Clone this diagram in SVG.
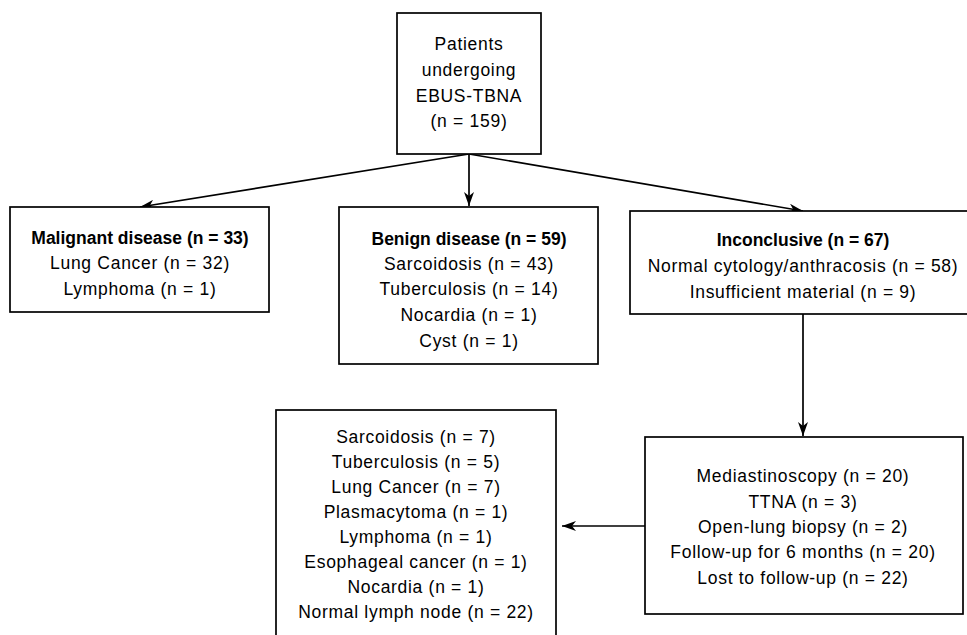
<svg xmlns="http://www.w3.org/2000/svg" width="967" height="635" viewBox="0 0 967 635">
<defs>
<style>
.box{fill:#fff;stroke:#000;stroke-width:1.7}
.t{font-family:"Liberation Sans",Arial,sans-serif;font-size:17.5px;letter-spacing:0.7px;fill:#000;text-anchor:middle}
.b{font-weight:bold;letter-spacing:0px}
.c{fill:none;stroke:#000;stroke-width:1.7}
</style>
<marker id="ah" viewBox="0 0 14 10" refX="14" refY="5" markerWidth="14" markerHeight="10" markerUnits="userSpaceOnUse" orient="auto">
<path d="M0,0 L14,5 L0,10 L4,5 Z" fill="#000"/>
</marker>
</defs>
<rect width="967" height="635" fill="#fff"/>
<g id="connectors">
<line class="c" x1="469" y1="154" x2="140" y2="207" marker-end="url(#ah)"/>
<line class="c" x1="469" y1="154" x2="469" y2="206" marker-end="url(#ah)"/>
<line class="c" x1="469" y1="154" x2="803" y2="211" marker-end="url(#ah)"/>
<line class="c" x1="803" y1="314" x2="803" y2="436" marker-end="url(#ah)"/>
<line class="c" x1="645" y1="526" x2="562" y2="526" marker-end="url(#ah)"/>
</g>
<g id="patients">
<rect class="box" x="397" y="13" width="144" height="141"/>
<text class="t" x="469" y="50">Patients</text>
<text class="t" x="469" y="76">undergoing</text>
<text class="t" x="469" y="102">EBUS-TBNA</text>
<text class="t" x="469" y="127">(n = 159)</text>
</g>
<g id="malignant">
<rect class="box" x="10" y="207" width="259" height="105"/>
<text class="t b" x="140" y="244">Malignant disease (n = 33)</text>
<text class="t" x="140" y="269">Lung Cancer (n = 32)</text>
<text class="t" x="140" y="295">Lymphoma (n = 1)</text>
</g>
<g id="benign">
<rect class="box" x="339" y="207" width="259" height="157"/>
<text class="t b" x="469" y="245">Benign disease (n = 59)</text>
<text class="t" x="469" y="270">Sarcoidosis (n = 43)</text>
<text class="t" x="469" y="295">Tuberculosis (n = 14)</text>
<text class="t" x="469" y="321">Nocardia (n = 1)</text>
<text class="t" x="469" y="347">Cyst (n = 1)</text>
</g>
<g id="inconclusive">
<rect class="box" x="630" y="211" width="346" height="103"/>
<text class="t b" x="803" y="246">Inconclusive (n = 67)</text>
<text class="t" x="803" y="272">Normal cytology/anthracosis (n = 58)</text>
<text class="t" x="803" y="298">Insufficient material (n = 9)</text>
</g>
<g id="followup">
<rect class="box" x="645" y="437" width="318" height="177"/>
<text class="t" x="803" y="482">Mediastinoscopy (n = 20)</text>
<text class="t" x="803" y="508">TTNA (n = 3)</text>
<text class="t" x="803" y="533">Open-lung biopsy (n = 2)</text>
<text class="t" x="803" y="558">Follow-up for 6 months (n = 20)</text>
<text class="t" x="803" y="584">Lost to follow-up (n = 22)</text>
</g>
<g id="outcomes">
<rect class="box" x="276" y="410" width="280" height="240"/>
<text class="t" x="416" y="443">Sarcoidosis (n = 7)</text>
<text class="t" x="416" y="468">Tuberculosis (n = 5)</text>
<text class="t" x="416" y="493">Lung Cancer (n = 7)</text>
<text class="t" x="416" y="518">Plasmacytoma (n = 1)</text>
<text class="t" x="416" y="543">Lymphoma (n = 1)</text>
<text class="t" x="416" y="568">Esophageal cancer (n = 1)</text>
<text class="t" x="416" y="593">Nocardia (n = 1)</text>
<text class="t" x="416" y="618">Normal lymph node (n = 22)</text>
</g>
</svg>
